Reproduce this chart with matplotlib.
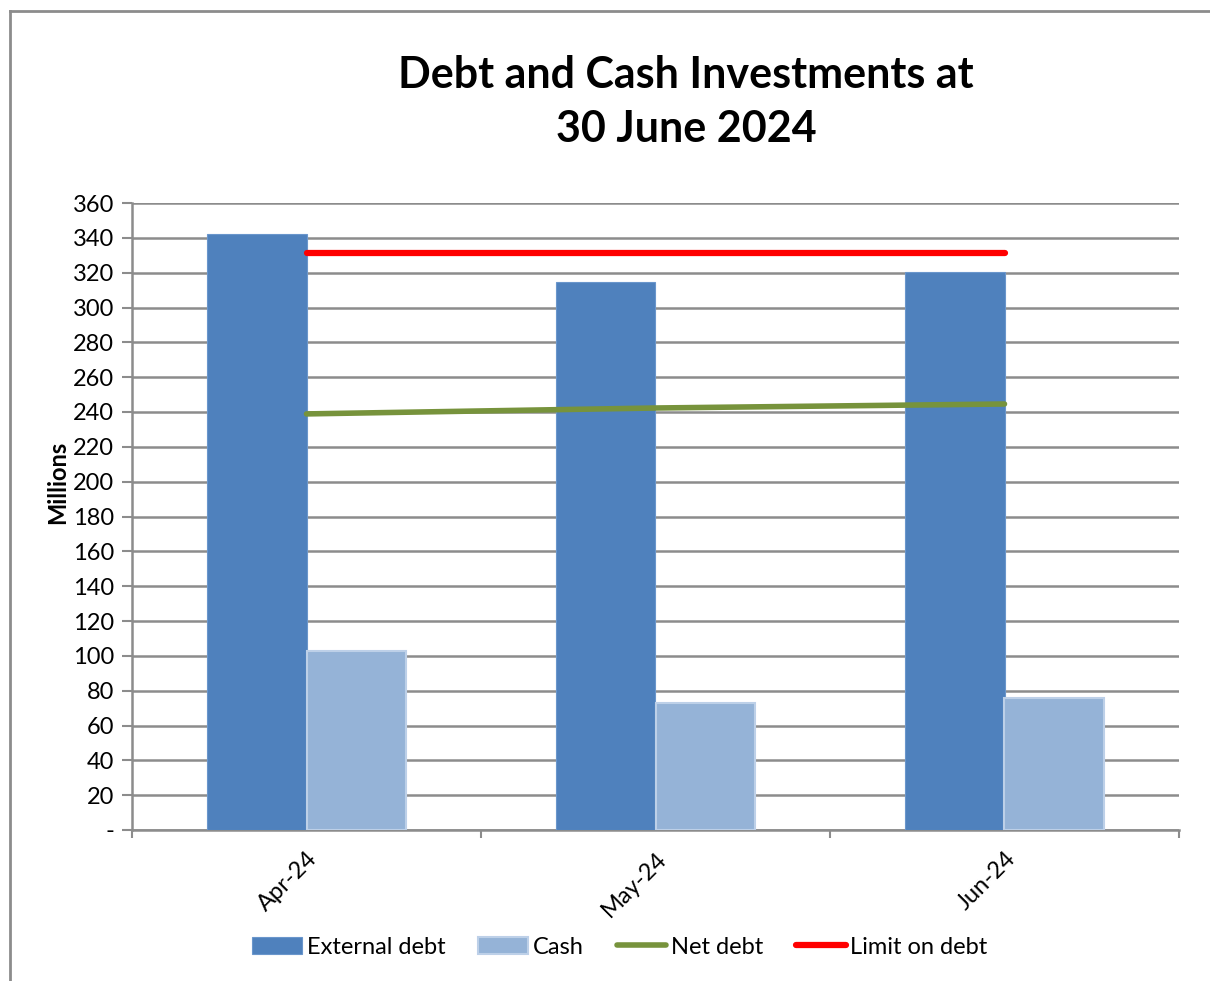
import matplotlib
matplotlib.use("Agg")
import matplotlib.pyplot as plt
import numpy as np

# Monthly debt and cash figures (millions)
months = ["Apr-24", "May-24", "Jun-24"]
external_debt = [342.2, 314.6, 320.4]
cash = [102.8, 72.9, 75.8]
net_debt = [238.9, 242.3, 244.6]
limit_on_debt = [331.3, 331.3, 331.3]
y_ticks = list(range(0, 361, 20))
y_tick_labels = ["-"] + [str(v) for v in y_ticks[1:]]

plt.rcParams["font.family"] = ["Lato", "DejaVu Sans"]

fig = plt.figure(figsize=(12.1, 9.81), dpi=100)
ax = fig.add_axes([132 / 1210, 1 - 830 / 981, (1179 - 132) / 1210, (830 - 203) / 981])

x = np.arange(len(months))
w = 0.286
h_ext = ax.bar(x - w / 2, external_debt, width=w, color="#4F81BD", edgecolor="#6A96CC",
               linewidth=0.8, zorder=3, label="External debt")
h_cash = ax.bar(x + w / 2, cash, width=w, color="#95B3D7", edgecolor="#BDD0E8",
                linewidth=1.5, zorder=3, label="Cash")
h_net, = ax.plot(x, net_debt, color="#77933C", linewidth=4, solid_capstyle="round",
                 zorder=4, label="Net debt")
h_lim, = ax.plot(x, limit_on_debt, color="#FF0000", linewidth=4.5, solid_capstyle="round",
                 zorder=4, label="Limit on debt")

ax.set_xlim(-0.5, len(months) - 0.5)
ax.set_ylim(0, 360)
ax.set_yticks(y_ticks)
ax.set_yticklabels(y_tick_labels, fontsize=17)
ax.yaxis.grid(True, color="#8C8C8C", linewidth=1.8, zorder=0)
ax.set_axisbelow(True)

# Category ticks sit between groups; labels at group centres
ax.set_xticks(np.arange(-0.5, len(months)), minor=False)
ax.set_xticklabels([])
ax.set_xticks(x, minor=True)
ax.set_xticklabels(months, minor=True, rotation=45, ha="right",
                   rotation_mode="anchor", fontsize=17)
ax.tick_params(axis="x", which="minor", length=0, pad=13)
ax.tick_params(axis="x", which="major", length=6, width=1.5, color="#8C8C8C", direction="out")
ax.tick_params(axis="y", length=7, width=1.5, color="#8C8C8C", pad=6)

for side in ("top", "right"):
    ax.spines[side].set_visible(False)
for side in ("left", "bottom"):
    ax.spines[side].set_color("#8C8C8C")
    ax.spines[side].set_linewidth(1.8)

fig.text(686 / 1210, 1 - 102 / 981, "Debt and Cash Investments at\n30 June 2024",
         ha="center", va="center", fontsize=31, fontweight="bold", linespacing=1.45)
fig.text(58 / 1210, 1 - 482 / 981, "Millions", rotation=90, ha="center", va="center",
         fontsize=17, fontweight="bold")

fig.legend([h_ext, h_cash, h_net, h_lim],
           ["External debt", "Cash", "Net debt", "Limit on debt"],
           loc="center", bbox_to_anchor=(620 / 1210, 1 - 947 / 981), ncol=4,
           frameon=False, fontsize=17, handlelength=2.1, handleheight=0.7,
           handletextpad=0.2, columnspacing=1.4)

# Outer chart frame (top and left edges visible)
fig.add_artist(plt.Line2D([10 / 1210, 1.0], [1 - 11 / 981, 1 - 11 / 981],
                          transform=fig.transFigure, color="#8C8C8C", linewidth=2))
fig.add_artist(plt.Line2D([10 / 1210, 10 / 1210], [0, 1 - 11 / 981],
                          transform=fig.transFigure, color="#8C8C8C", linewidth=2))

fig.savefig("out.png", dpi=100, facecolor="white")
